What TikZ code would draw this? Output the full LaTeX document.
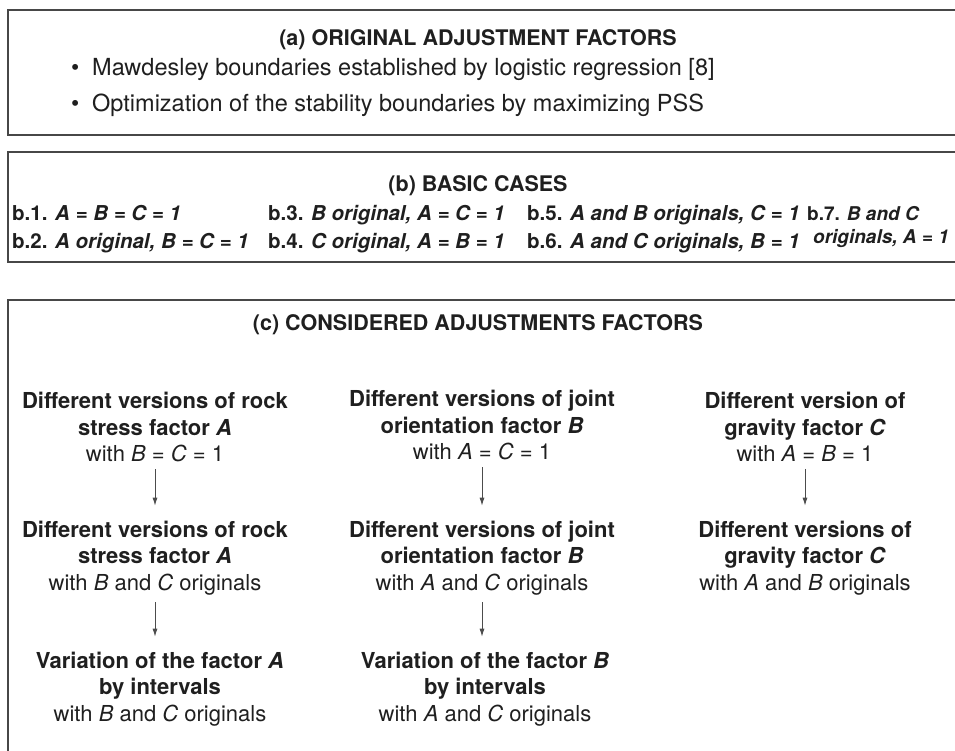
\documentclass[tikz,border=0pt]{standalone}
\usepackage{fontspec}
\setmainfont{TeX Gyre Heros}
\usetikzlibrary{arrows.meta}

\begin{document}
\begin{tikzpicture}[x=1pt,y=-1pt,text=black!88,font=\fontsize{22}{26.5}\selectfont]
  \path[use as bounding box] (0,0) rectangle (955,750);
  \clip (0,0) rectangle (955,750);

  % Three panels; their right (and last one's lower) side runs off the page.
  \tikzset{panel/.style={draw=black!72,line width=1.3pt}}
  \draw[panel] (8,10) rectangle (990,135);
  \draw[panel] (8,152) rectangle (990,262);
  \draw[panel] (8,300) rectangle (990,790);

  \tikzset{title/.style={font=\fontsize{21.5}{24}\selectfont\bfseries}}
  \node[title] (ta) at (478,40) {(a) ORIGINAL ADJUSTMENT FACTORS};
  \node[title] (tb) at (478,186) {(b) BASIC CASES};
  \node[title] (tc) at (478,325) {(c) CONSIDERED ADJUSTMENTS FACTORS};

  \tikzset{item/.style={anchor=base west,inner sep=0pt,font=\fontsize{23.5}{28}\selectfont}}
  \node[item] (bul1) at (71,75) {\makebox[21pt][l]{\textbullet}Mawdesley boundaries established by logistic regression [8]};
  \node[item] (bul2) at (71,111) {\makebox[21pt][l]{\textbullet}Optimization of the stability boundaries by maximizing PSS};

  \tikzset{case/.style={anchor=base west,inner sep=0pt,font=\fontsize{20.5}{23}\selectfont\bfseries}}
  \node[case] (b1) at (12,220) {b.1. \textit{A = B = C = 1}};
  \node[case] (b2) at (12,248) {b.2. \textit{A original, B = C = 1}};
  \node[case] (b3) at (268,220) {b.3. \textit{B original, A = C = 1}};
  \node[case] (b4) at (268,248) {b.4. \textit{C original, A = B = 1}};
  \node[case] (b5) at (527,220) {b.5. \textit{A and B originals, C = 1}};
  \node[case] (b6) at (527,248) {b.6. \textit{A and C originals, B = 1}};
  \node[case,align=left,font=\fontsize{19}{23}\selectfont\bfseries] (b7) at (807,243) {b.7. \textit{B and C}\\\hspace*{6pt}\textit{originals, A = 1}};

  \tikzset{stepbox/.style={align=center,inner sep=2pt},
    flow/.style={draw=black!70,line width=0.9pt,-{Latex[length=8pt,width=5pt]},shorten <=5pt,shorten >=13pt}}
  \node[stepbox] (ra1) at (155,427) {\textbf{Different versions of rock}\\\textbf{stress factor \textit{A}}\\with \textit{B} = \textit{C} = 1};
  \node[stepbox] (ra2) at (155,558) {\textbf{Different versions of rock}\\\textbf{stress factor \textit{A}}\\with \textit{B} and \textit{C} originals};
  \node[stepbox] (ra3) at (160,689) {\textbf{Variation of the factor \textit{A}}\\\textbf{by intervals}\\with \textit{B} and \textit{C} originals};
  \node[stepbox] (rb1) at (482,425) {\textbf{Different versions of joint}\\\textbf{orientation factor \textit{B}}\\with \textit{A} = \textit{C} = 1};
  \node[stepbox] (rb2) at (482,558) {\textbf{Different versions of joint}\\\textbf{orientation factor \textit{B}}\\with \textit{A} and \textit{C} originals};
  \node[stepbox] (rb3) at (485,689) {\textbf{Variation of the factor \textit{B}}\\\textbf{by intervals}\\with \textit{A} and \textit{C} originals};
  \node[stepbox] (rc1) at (805,427) {\textbf{Different version of}\\\textbf{gravity factor \textit{C}}\\with \textit{A} = \textit{B} = 1};
  \node[stepbox] (rc2) at (805,558) {\textbf{Different versions of}\\\textbf{gravity factor \textit{C}}\\with \textit{A} and \textit{B} originals};

  \draw[flow] (ra1.south) -- (ra1.south |- ra2.north);
  \draw[flow] (ra2.south) -- (ra2.south |- ra3.north);
  \draw[flow] (rb1.south) -- (rb1.south |- rb2.north);
  \draw[flow] (rb2.south) -- (rb2.south |- rb3.north);
  \draw[flow] (rc1.south) -- (rc1.south |- rc2.north);
\end{tikzpicture}
\end{document}
